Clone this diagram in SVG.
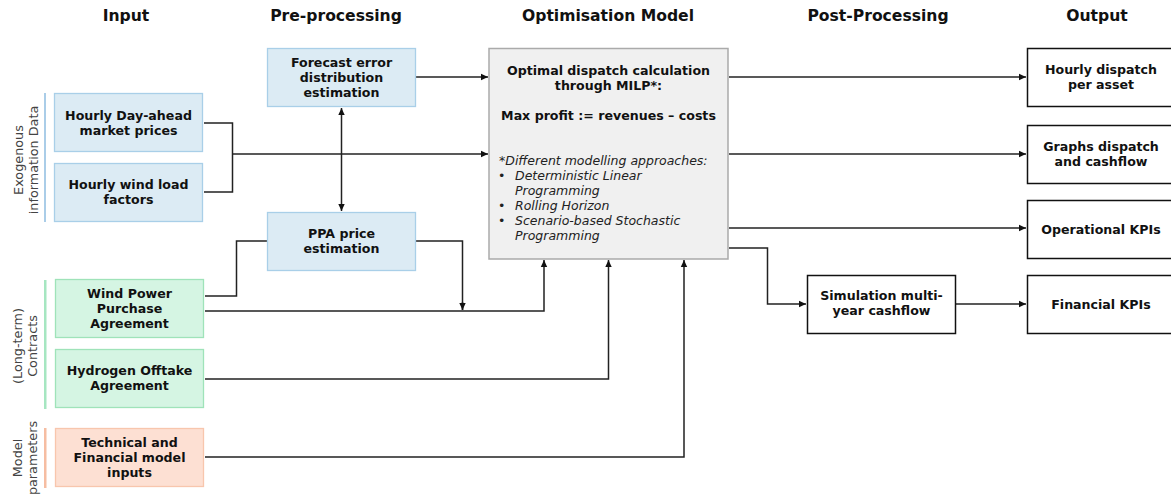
<svg xmlns="http://www.w3.org/2000/svg" width="1171" height="495" viewBox="0 0 1171 495">
<style>
.hdr{font-family:"DejaVu Sans",Verdana,sans-serif;font-weight:bold;font-size:15.6px;fill:#111;text-anchor:middle}
.t{font-family:"DejaVu Sans",Verdana,sans-serif;font-weight:bold;font-size:12.6px;fill:#111;text-anchor:middle}
.i{font-family:"DejaVu Sans",Verdana,sans-serif;font-style:italic;font-size:12.5px;fill:#222}
.side{font-family:"DejaVu Sans",Verdana,sans-serif;font-size:12.8px;fill:#444;text-anchor:middle}
.blue{fill:#dcebf4;stroke:#a9cfe8;stroke-width:1.3}
.green{fill:#d5f5e3;stroke:#9fe3b9;stroke-width:1.3}
.orange{fill:#fde0d3;stroke:#f8c6ad;stroke-width:1.3}
.out{fill:#fff;stroke:#111;stroke-width:1.5}
.opt{fill:#f0f0f0;stroke:#aaaaaa;stroke-width:1.5}
.c{fill:none;stroke:#222;stroke-width:1.5}
</style>
<defs>
<marker id="a" markerUnits="userSpaceOnUse" markerWidth="8" markerHeight="8" refX="7" refY="4" orient="auto-start-reverse">
<path d="M0,0.8 L7,4 L0,7.2 Z" fill="#111"/>
</marker>
</defs>
<rect width="1171" height="495" fill="#fff"/>

<g id="headers">
<text class="hdr" x="126" y="21">Input</text>
<text class="hdr" x="336" y="21">Pre-processing</text>
<text class="hdr" x="608" y="21">Optimisation Model</text>
<text class="hdr" x="878" y="21">Post-Processing</text>
<text class="hdr" x="1097" y="21">Output</text>
</g>

<g id="side-labels">
<rect x="44" y="93" width="2" height="129" fill="#aacde8"/>
<text class="side" transform="translate(23,160) rotate(-90)">Exogenous</text>
<text class="side" transform="translate(38,160) rotate(-90)">information Data</text>
<rect x="44" y="280" width="2.5" height="129" fill="#a6e6c1"/>
<text class="side" transform="translate(22,346) rotate(-90)">(Long-term)</text>
<text class="side" transform="translate(37,346) rotate(-90)">Contracts</text>
<rect x="44" y="428" width="2.5" height="60" fill="#f6bda2"/>
<text class="side" transform="translate(22,458) rotate(-90)">Model</text>
<text class="side" transform="translate(37,458) rotate(-90)">parameters</text>
</g>

<g id="connectors">
<polyline class="c" points="204,123 232.5,123 232.5,192 204,192"/>
<line class="c" x1="232.5" y1="154" x2="488" y2="154" marker-end="url(#a)"/>
<line class="c" x1="416" y1="77" x2="488" y2="77" marker-end="url(#a)"/>
<line class="c" x1="341.5" y1="108" x2="341.5" y2="211" marker-start="url(#a)" marker-end="url(#a)"/>
<polyline class="c" points="267,241 236.5,241 236.5,296 205,296"/>
<polyline class="c" points="416,241 462.5,241 462.5,310"/>
<line class="c" x1="462.5" y1="302" x2="462.5" y2="310" marker-end="url(#a)"/>
<polyline class="c" points="205,311 544,311 544,260" marker-end="url(#a)"/>
<polyline class="c" points="205,379 608.5,379 608.5,260" marker-end="url(#a)"/>
<polyline class="c" points="205,457 684,457 684,260" marker-end="url(#a)"/>
<line class="c" x1="729" y1="77" x2="1026" y2="77" marker-end="url(#a)"/>
<line class="c" x1="729" y1="154" x2="1026" y2="154" marker-end="url(#a)"/>
<line class="c" x1="729" y1="228" x2="1026" y2="228" marker-end="url(#a)"/>
<polyline class="c" points="729,248 767.5,248 767.5,304 806,304" marker-end="url(#a)"/>
<line class="c" x1="956" y1="304" x2="1026" y2="304" marker-end="url(#a)"/>
</g>

<g id="forecast">
<rect class="blue" x="267.5" y="48.5" width="148" height="58"/>
<text class="t" x="341.5" y="67">Forecast error</text>
<text class="t" x="341.5" y="82">distribution</text>
<text class="t" x="341.5" y="97">estimation</text>
</g>
<g id="ppa-price">
<rect class="blue" x="267.5" y="212.5" width="148" height="58"/>
<text class="t" x="341.5" y="238">PPA price</text>
<text class="t" x="341.5" y="253">estimation</text>
</g>
<g id="dayahead">
<rect class="blue" x="54.5" y="93.5" width="148" height="58"/>
<text class="t" x="128.5" y="119.5">Hourly Day-ahead</text>
<text class="t" x="128.5" y="134.5">market prices</text>
</g>
<g id="wind-load">
<rect class="blue" x="54.5" y="163.5" width="148" height="58"/>
<text class="t" x="128.5" y="189">Hourly wind load</text>
<text class="t" x="128.5" y="204">factors</text>
</g>
<g id="wind-ppa">
<rect class="green" x="55.5" y="279.5" width="148" height="58"/>
<text class="t" x="129.5" y="298">Wind Power</text>
<text class="t" x="129.5" y="313">Purchase</text>
<text class="t" x="129.5" y="328">Agreement</text>
</g>
<g id="hydrogen">
<rect class="green" x="55.5" y="349.5" width="148" height="58"/>
<text class="t" x="129.5" y="375">Hydrogen Offtake</text>
<text class="t" x="129.5" y="390">Agreement</text>
</g>
<g id="technical">
<rect class="orange" x="55.5" y="428.5" width="148" height="58"/>
<text class="t" x="129.5" y="447">Technical and</text>
<text class="t" x="129.5" y="462">Financial model</text>
<text class="t" x="129.5" y="477">inputs</text>
</g>

<g id="optimisation">
<rect class="opt" x="489" y="48.5" width="239" height="210.5"/>
<text class="t" x="608.5" y="75">Optimal dispatch calculation</text>
<text class="t" x="608.5" y="90">through MILP*:</text>
<text class="t" x="608.5" y="120">Max profit := revenues – costs</text>
<text class="i" x="499" y="165">*Different modelling approaches:</text>
<text class="i" x="498" y="180">•</text>
<text class="i" x="515" y="180">Deterministic Linear</text>
<text class="i" x="515" y="195">Programming</text>
<text class="i" x="498" y="210">•</text>
<text class="i" x="515" y="210">Rolling Horizon</text>
<text class="i" x="498" y="225">•</text>
<text class="i" x="515" y="225">Scenario-based Stochastic</text>
<text class="i" x="515" y="240">Programming</text>
</g>

<g id="simulation">
<rect class="out" x="807.5" y="275.5" width="148" height="58"/>
<text class="t" x="881.5" y="300">Simulation multi-</text>
<text class="t" x="881.5" y="315">year cashflow</text>
</g>
<g id="hourly-dispatch">
<rect class="out" x="1027.5" y="48.5" width="148" height="58"/>
<text class="t" x="1101" y="74">Hourly dispatch</text>
<text class="t" x="1101" y="89">per asset</text>
</g>
<g id="graphs">
<rect class="out" x="1027.5" y="125.5" width="148" height="58"/>
<text class="t" x="1101" y="151">Graphs dispatch</text>
<text class="t" x="1101" y="166">and cashflow</text>
</g>
<g id="operational">
<rect class="out" x="1027.5" y="200.5" width="148" height="58"/>
<text class="t" x="1101" y="233.5">Operational KPIs</text>
</g>
<g id="financial">
<rect class="out" x="1027.5" y="275.5" width="148" height="58"/>
<text class="t" x="1101" y="308.5">Financial KPIs</text>
</g>
</svg>
